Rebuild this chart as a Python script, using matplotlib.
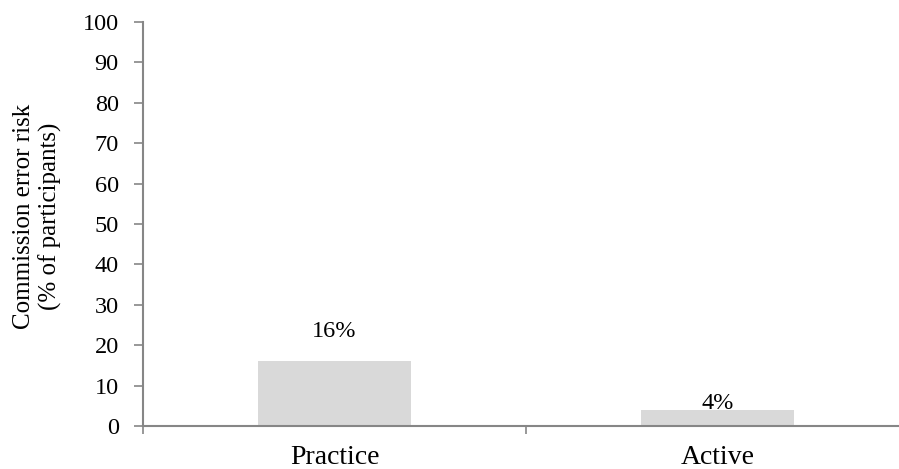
import matplotlib
matplotlib.use("Agg")
import matplotlib.pyplot as plt

categories = ["Practice", "Active"]
values = [16, 4]
labels = ["16%", "4%"]
label_y = [22, 4.2]
yticks = [0, 10, 20, 30, 40, 50, 60, 70, 80, 90, 100]

plt.rcParams["font.family"] = ["Liberation Serif", "DejaVu Serif"]

W, H = 899, 469
fig = plt.figure(figsize=(W / 100, H / 100), dpi=100)
ax = fig.add_axes([143 / W, 43 / H, 766 / W, 404 / H])

x = list(range(len(categories)))
ax.bar(x, values, width=0.4, color="#d9d9d9", zorder=2)
for xi, lab, ly in zip(x, labels, label_y):
    ax.text(xi, ly, lab, ha="center", va="baseline", fontsize=17.5, color="black")

ax.set_xlim(-0.5, 1.5)
ax.set_ylim(0, 100)
ax.set_yticks(yticks)
ax.tick_params(axis="y", labelsize=17.5, length=6.5, width=1.2, color="#868686", pad=11)

# category labels centered, separator ticks between categories
ax.set_xticks(x)
ax.set_xticklabels(categories, fontsize=20)
ax.tick_params(axis="x", length=0, pad=14)
ax.set_xticks([-0.5, 0.5, 1.5], minor=True)
ax.tick_params(axis="x", which="minor", length=6, width=1.2, color="#868686")

for side in ["top", "right"]:
    ax.spines[side].set_visible(False)
for side in ["left", "bottom"]:
    ax.spines[side].set_color("#868686")
    ax.spines[side].set_linewidth(1.5)

fig.text(37.5 / W, 1 - 216 / H, "Commission error risk\n(% of participants)",
         rotation=90, ha="center", va="center", multialignment="center",
         fontsize=18, linespacing=1.2)

fig.savefig("out.png", dpi=100)
